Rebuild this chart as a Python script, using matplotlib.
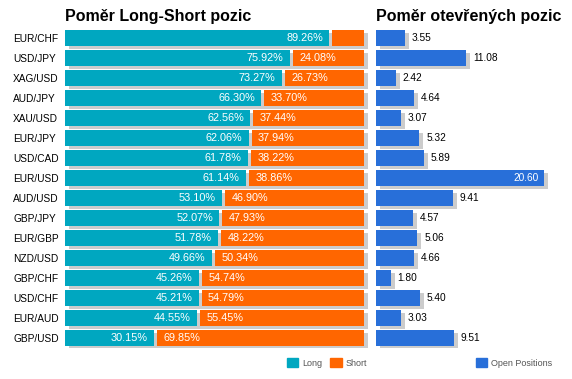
import matplotlib
matplotlib.use("Agg")
import matplotlib.pyplot as plt
import matplotlib.transforms as mtransforms
from matplotlib.patches import Patch
import numpy as np

pairs = ["EUR/CHF", "USD/JPY", "XAG/USD", "AUD/JPY", "XAU/USD", "EUR/JPY", "USD/CAD", "EUR/USD",
         "AUD/USD", "GBP/JPY", "EUR/GBP", "NZD/USD", "GBP/CHF", "USD/CHF", "EUR/AUD", "GBP/USD"]
long_pct = [89.26, 75.92, 73.27, 66.30, 62.56, 62.06, 61.78, 61.14, 53.10, 52.07, 51.78, 49.66,
            45.26, 45.21, 44.55, 30.15]
short_pct = [10.74, 24.08, 26.73, 33.70, 37.44, 37.94, 38.22, 38.86, 46.90, 47.93, 48.22, 50.34,
             54.74, 54.79, 55.45, 69.85]
open_pos = [3.55, 11.08, 2.42, 4.64, 3.07, 5.32, 5.89, 20.60, 9.41, 4.57, 5.06, 4.66, 1.80, 5.40,
            3.03, 9.51]

C_LONG = "#00a7c0"
C_SHORT = "#ff6600"
C_OPEN = "#286fd9"
C_SHADOW = "#cccccc"
FONT = "Liberation Sans"

W, H = 572, 379
fig = plt.figure(figsize=(W / 100, H / 100), dpi=100)

def px_axes(x0, y_top, w, h):
    return fig.add_axes([x0 / W, 1 - (y_top + h) / H, w / W, h / H])

y = np.arange(len(pairs))
shadow_tr = mtransforms.ScaledTranslation(4 / 100, -3 / 100, fig.dpi_scale_trans)
gap = 1.0
bh = 0.8

# Left panel
ax1 = px_axes(65, 28, 305, 320)
ax1.barh(y, [100 + gap] * len(y), height=bh, color=C_SHADOW, transform=ax1.transData + shadow_tr, zorder=1)
ax1.barh(y, long_pct, height=bh, color=C_LONG, zorder=2)
ax1.barh(y, short_pct, left=np.array(long_pct) + gap, height=bh, color=C_SHORT, zorder=2)
for yi, l, s in zip(y, long_pct, short_pct):
    ax1.annotate(f"{l:.2f}%", (l, yi), xytext=(-4.5, 0), textcoords="offset points",
                 ha="right", va="center", color="white", fontsize=7.8, family=FONT, zorder=3)
    if s >= 15:
        ax1.annotate(f"{s:.2f}%", (l + gap, yi), xytext=(4.5, 0), textcoords="offset points",
                     ha="left", va="center", color="white", fontsize=7.8, family=FONT, zorder=3)
ax1.set_xlim(0, 103)
ax1.set_ylim(len(y) - 0.5, -0.5)
ax1.set_yticks(y)
ax1.set_yticklabels(pairs, family=FONT, fontsize=7.3, ha="left")
ax1.tick_params(axis="y", length=0, pad=52 * 72 / 100)
ax1.set_xticks([])
for sp in ax1.spines.values():
    sp.set_visible(False)

# Right panel
xmax2 = 24.05
ax2 = px_axes(376, 28, 196, 320)
ax2.barh(y, open_pos, height=bh, color=C_SHADOW, transform=ax2.transData + shadow_tr, zorder=1)
ax2.barh(y, open_pos, height=bh, color=C_OPEN, zorder=2)
for yi, v in zip(y, open_pos):
    if v > 0.75 * xmax2:
        ax2.annotate(f"{v:.2f}", (v, yi), xytext=(-3.5, 0), textcoords="offset points",
                     ha="right", va="center", color="white", fontsize=7.3, family=FONT, zorder=3)
    else:
        ax2.annotate(f"{v:.2f}", (v, yi), xytext=(5, 0), textcoords="offset points",
                     ha="left", va="center", color="black", fontsize=7.3, family=FONT, zorder=3)
ax2.set_xlim(0, xmax2)
ax2.set_ylim(len(y) - 0.5, -0.5)
ax2.set_xticks([])
ax2.set_yticks([])
for sp in ax2.spines.values():
    sp.set_visible(False)

# Titles
fig.text(65 / W, 1 - 16 / H, "Poměr Long-Short pozic", fontsize=11.5, fontweight="bold",
         family=FONT, va="center", ha="left")
fig.text(376 / W, 1 - 16 / H, "Poměr otevřených pozic", fontsize=11.5, fontweight="bold",
         family=FONT, va="center", ha="left")

# Legends
leg_kw = dict(frameon=False, handlelength=1.3, handleheight=1.1, handletextpad=0.4,
              columnspacing=0.9, borderpad=0, borderaxespad=0,
              prop={"family": FONT, "size": 6.5}, labelcolor="#555555")
fig.legend([Patch(color=C_LONG), Patch(color=C_SHORT)], ["Long", "Short"], ncol=2,
           loc="center right", bbox_to_anchor=(367 / W, 1 - 363 / H), **leg_kw)
fig.legend([Patch(color=C_OPEN)], ["Open Positions"], ncol=1,
           loc="center right", bbox_to_anchor=(552 / W, 1 - 363 / H), **leg_kw)

fig.savefig("out.png", dpi=100)
